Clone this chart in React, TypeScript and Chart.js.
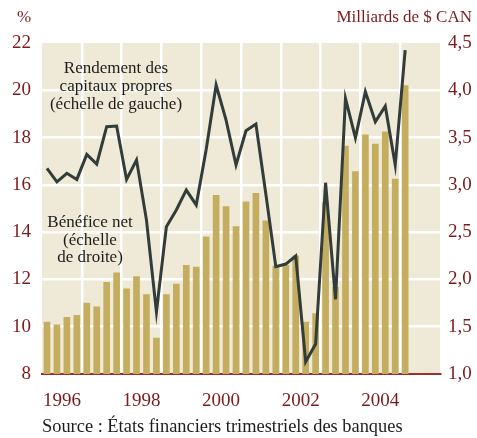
import React, { useEffect, useRef } from 'react';
import { Chart, registerables } from 'chart.js';

Chart.register(...registerables);

// Trimestres (T1..T4)
const periods = [
  '1996 T1', '1996 T2', '1996 T3', '1996 T4',
  '1997 T1', '1997 T2', '1997 T3', '1997 T4',
  '1998 T1', '1998 T2', '1998 T3', '1998 T4',
  '1999 T1', '1999 T2', '1999 T3', '1999 T4',
  '2000 T1', '2000 T2', '2000 T3', '2000 T4',
  '2001 T1', '2001 T2', '2001 T3', '2001 T4',
  '2002 T1', '2002 T2', '2002 T3', '2002 T4',
  '2003 T1', '2003 T2', '2003 T3', '2003 T4',
  '2004 T1', '2004 T2', '2004 T3', '2004 T4',
  '2005 T1',
];

// Bénéfice net (milliards de $ CAN, échelle de droite)
const netIncome = [
  1.55, 1.52, 1.60, 1.62,
  1.75, 1.71, 1.97, 2.07,
  1.90, 2.03, 1.84, 1.38,
  1.84, 1.95, 2.15, 2.13,
  2.45, 2.89, 2.77, 2.56,
  2.82, 2.91, 2.62, 2.14,
  2.15, 2.25, 1.55, 1.64,
  2.81, 1.92, 3.41, 3.14,
  3.53, 3.43, 3.56, 3.06,
  4.05,
];

// Rendement des capitaux propres (%, échelle de gauche)
const roe = [
  16.70, 16.13, 16.49, 16.23,
  17.29, 16.88, 18.46, 18.49,
  16.23, 17.05, 14.51, 10.63,
  14.23, 14.94, 15.78, 15.15,
  17.50, 20.22, 18.74, 16.84,
  18.29, 18.57, 15.60, 12.54,
  12.65, 12.99, 8.52, 9.27,
  16.09, 11.16, 19.66, 17.99,
  19.94, 18.67, 19.33, 16.84,
  21.70,
];

const yearLabels = ['1996', '1998', '2000', '2002', '2004'];
const xMin = 1996;
const xMax = 2006;

const leftTitle = '%';
const rightTitle = 'Milliards de $ CAN';
const sourceText = 'Source : États financiers trimestriels des banques';
const roeNote = ['Rendement des', 'capitaux propres', '(échelle de gauche)'];
const incomeNote = ['Bénéfice net', '(échelle', 'de droite)'];

const SERIF = '"Liberation Serif", "Times New Roman", serif';
const RED = '#7b1a1d';
const AXIS_RED = '#9b2f2f';
const BG = '#efe9d8';
const BAR = '#c4ad5f';
const LINE = '#323d39';
const TEXT = '#1c1c1c';

function periodToX(p: string): number {
  const [y, q] = p.split(' T');
  return Number(y) + (Number(q) - 0.5) / 4;
}

const isInt = (v: number) => Math.abs(v - Math.round(v)) < 1e-6;

const decorPlugin = {
  id: 'decor',
  beforeDraw(chart: any) {
    const { ctx, chartArea } = chart;
    ctx.save();
    ctx.fillStyle = BG;
    ctx.fillRect(chartArea.left, chartArea.top, chartArea.right - chartArea.left, chartArea.bottom - chartArea.top);
    ctx.restore();
  },
  afterDraw(chart: any) {
    const { ctx } = chart;
    ctx.save();
    ctx.textBaseline = 'alphabetic';
    // axis titles
    ctx.fillStyle = RED;
    ctx.font = `17px ${SERIF}`;
    ctx.textAlign = 'left';
    ctx.fillText(leftTitle, 17, 22);
    ctx.textAlign = 'right';
    ctx.fillText(rightTitle, 472, 22);
    // annotations
    ctx.fillStyle = TEXT;
    ctx.font = `17px ${SERIF}`;
    ctx.textAlign = 'center';
    roeNote.forEach((t, i) => ctx.fillText(t, 116, 73 + i * 18));
    incomeNote.forEach((t, i) => ctx.fillText(t, 90, 227 + i * 17.5));
    // source
    ctx.textAlign = 'left';
    ctx.font = `18.4px ${SERIF}`;
    ctx.fillText(sourceText, 42, 432);
    ctx.restore();
  },
};

export default function App() {
  const ref = useRef<HTMLCanvasElement>(null);
  useEffect(() => {
    document.body.style.margin = '0';
    const canvas = ref.current!;
    const chart = new Chart(canvas, {
      type: 'bar',
      data: {
        datasets: [
          {
            type: 'line',
            label: 'Rendement des capitaux propres',
            data: periods.map((p, i) => ({ x: periodToX(p), y: roe[i] })),
            yAxisID: 'y',
            borderColor: LINE,
            borderWidth: 3,
            pointRadius: 0,
            tension: 0,
            borderJoinStyle: 'miter',
            order: 0,
          } as any,
          {
            type: 'bar',
            label: 'Bénéfice net',
            data: periods.map((p, i) => ({ x: periodToX(p), y: netIncome[i] })),
            yAxisID: 'y1',
            backgroundColor: BAR,
            barThickness: 6,
            order: 1,
          } as any,
        ],
      },
      options: {
        responsive: false,
        animation: false,
        devicePixelRatio: 1,
        layout: { padding: { top: 43, left: 0, right: 0, bottom: 0 } },
        plugins: { legend: { display: false }, tooltip: { enabled: false } },
        scales: {
          x: {
            type: 'linear',
            offset: false,
            min: xMin,
            max: xMax,
            afterBuildTicks: (s: any) => {
              const t: any[] = [];
              for (let v = xMin; v <= xMax + 1e-6; v += 0.5) t.push({ value: v });
              s.ticks = t;
            },
            afterFit: (s: any) => {
              s.height = 64;
            },
            grid: {
              offset: false,
              color: (c: any) => {
                const v = c.tick ? c.tick.value : 0;
                return isInt(v) && v > xMin && v < xMax ? '#ffffff' : 'rgba(0,0,0,0)';
              },
              lineWidth: 2.5,
              drawTicks: false,
            },
            border: { display: true, color: AXIS_RED, width: 2 },
            ticks: {
              autoSkip: false,
              maxRotation: 0,
              padding: 16,
              color: RED,
              font: { family: SERIF, size: 19 },
              callback: (v: any) => {
                const n = Number(v);
                if (isInt(n)) return '';
                const y = String(Math.floor(n));
                return yearLabels.includes(y) ? y : '';
              },
            },
          },
          y: {
            position: 'left',
            min: 8,
            max: 22,
            afterFit: (s: any) => {
              s.width = 42;
            },
            grid: {
              color: (c: any) => {
                const v = c.tick ? c.tick.value : 0;
                return v === 8 || v === 22 ? 'rgba(0,0,0,0)' : '#ffffff';
              },
              lineWidth: 2.5,
              drawTicks: false,
            },
            border: { display: false },
            ticks: {
              stepSize: 2,
              padding: 11,
              color: RED,
              font: { family: SERIF, size: 19 },
            },
          },
          y1: {
            position: 'right',
            min: 1,
            max: 4.5,
            afterFit: (s: any) => {
              s.width = 37;
            },
            grid: { display: false, drawTicks: false },
            border: { display: false },
            ticks: {
              stepSize: 0.5,
              padding: 8,
              color: RED,
              font: { family: SERIF, size: 19 },
              callback: (v: any) => Number(v).toFixed(1).replace('.', ','),
            },
          },
        },
      } as any,
      plugins: [decorPlugin],
    });
    return () => chart.destroy();
  }, []);
  return <canvas ref={ref} width={477} height={438} style={{ display: 'block' }} />;
}
